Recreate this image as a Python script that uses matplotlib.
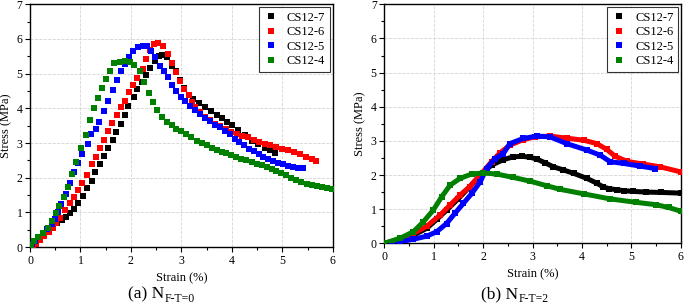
import matplotlib
matplotlib.use("Agg")
import matplotlib.pyplot as plt
from matplotlib.lines import Line2D
from matplotlib.ticker import MultipleLocator

plt.rcParams["font.family"] = ["Liberation Serif", "DejaVu Serif"]

labels = ["CS12-7", "CS12-6", "CS12-5", "CS12-4"]
colors = ["#000000", "#ff0000", "#0000ff", "#008000"]

# ---- (a) N_F-T=0 : strain (%) / stress (MPa)
a7_x = [0.03, 0.10, 0.18, 0.26, 0.36, 0.45, 0.54, 0.63, 0.72, 0.80, 0.88, 0.96, 1.06, 1.13, 1.22,
        1.29, 1.38, 1.47, 1.55, 1.64, 1.71, 1.80, 1.88, 1.95, 2.06, 2.13, 2.22, 2.30, 2.38, 2.48,
        2.55, 2.61, 2.71, 2.81, 2.89, 2.97, 3.05, 3.15, 3.23, 3.35, 3.47, 3.58, 3.70, 3.80, 3.91,
        4.01, 4.13, 4.26, 4.39, 4.52, 4.65, 4.75, 4.85]
a7_y = [0.05, 0.15, 0.25, 0.34, 0.44, 0.56, 0.68, 0.78, 0.87, 0.99, 1.10, 1.26, 1.47, 1.69, 1.90,
        2.16, 2.40, 2.63, 2.86, 3.10, 3.32, 3.55, 3.82, 4.08, 4.32, 4.56, 4.77, 4.97, 5.16, 5.37,
        5.50, 5.54, 5.47, 5.21, 5.07, 4.83, 4.59, 4.39, 4.27, 4.15, 4.03, 3.92, 3.82, 3.73, 3.62,
        3.51, 3.37, 3.22, 3.07, 2.96, 2.86, 2.79, 2.72]

a6_x = [0.05, 0.12, 0.20, 0.28, 0.37, 0.45, 0.52, 0.60, 0.69, 0.79, 0.87, 0.96, 1.04, 1.12, 1.22,
        1.31, 1.39, 1.47, 1.54, 1.63, 1.72, 1.80, 1.88, 1.97, 2.05, 2.13, 2.23, 2.30, 2.37, 2.45,
        2.54, 2.64, 2.73, 2.82, 2.89, 2.98, 3.06, 3.16, 3.21, 3.27, 3.37, 3.47, 3.56, 3.67, 3.77,
        3.88, 3.99, 4.10, 4.21, 4.32, 4.44, 4.54, 4.65, 4.76, 4.88, 5.00, 5.11, 5.23, 5.35, 5.46,
        5.58, 5.66]
a6_y = [0.02, 0.10, 0.20, 0.32, 0.44, 0.56, 0.70, 0.85, 1.06, 1.26, 1.43, 1.64, 1.85, 2.09, 2.40,
        2.61, 2.86, 3.10, 3.34, 3.57, 3.82, 4.03, 4.22, 4.46, 4.67, 4.88, 5.13, 5.42, 5.68, 5.85,
        5.87, 5.80, 5.58, 5.32, 5.05, 4.80, 4.57, 4.37, 4.18, 4.03, 3.89, 3.76, 3.65, 3.55, 3.48,
        3.41, 3.33, 3.27, 3.21, 3.16, 3.09, 3.04, 2.98, 2.93, 2.88, 2.84, 2.79, 2.73, 2.67, 2.61,
        2.55, 2.48]

a5_x = [0.03, 0.10, 0.16, 0.26, 0.33, 0.43, 0.50, 0.56, 0.61, 0.71, 0.79, 0.87, 0.96, 1.04, 1.14,
        1.20, 1.30, 1.37, 1.47, 1.55, 1.64, 1.72, 1.80, 1.88, 1.96, 2.05, 2.14, 2.23, 2.31, 2.39,
        2.47, 2.57, 2.65, 2.74, 2.82, 2.90, 3.00, 3.08, 3.18, 3.27, 3.37, 3.47, 3.57, 3.66, 3.76,
        3.86, 3.96, 4.06, 4.15, 4.24, 4.34, 4.44, 4.53, 4.62, 4.72, 4.82, 4.92, 5.02, 5.12, 5.22,
        5.31, 5.41]
a5_y = [0.10, 0.18, 0.28, 0.40, 0.51, 0.66, 0.82, 1.01, 1.24, 1.54, 1.85, 2.16, 2.42, 2.69, 2.98,
        3.27, 3.41, 3.60, 3.92, 4.22, 4.53, 4.83, 5.07, 5.28, 5.49, 5.64, 5.76, 5.80, 5.80, 5.66,
        5.47, 5.23, 5.09, 4.89, 4.68, 4.51, 4.34, 4.20, 4.08, 3.96, 3.84, 3.73, 3.63, 3.53, 3.45,
        3.36, 3.25, 3.12, 3.03, 2.93, 2.84, 2.76, 2.68, 2.60, 2.53, 2.47, 2.42, 2.38, 2.34, 2.31,
        2.29, 2.29]

a4_x = [0.02, 0.07, 0.16, 0.25, 0.35, 0.43, 0.51, 0.58, 0.67, 0.76, 0.84, 0.92, 1.01, 1.11, 1.19,
        1.27, 1.34, 1.42, 1.50, 1.58, 1.67, 1.78, 1.88, 1.98, 2.07, 2.18, 2.26, 2.36, 2.44, 2.51,
        2.61, 2.71, 2.81, 2.90, 3.00, 3.10, 3.20, 3.30, 3.40, 3.50, 3.60, 3.70, 3.80, 3.89, 3.99,
        4.09, 4.19, 4.29, 4.39, 4.49, 4.59, 4.69, 4.79, 4.88, 4.98, 5.08, 5.18, 5.28, 5.38, 5.48,
        5.58, 5.68, 5.78, 5.88, 5.99]
a4_y = [0.05, 0.18, 0.28, 0.39, 0.55, 0.76, 0.97, 1.18, 1.45, 1.73, 2.10, 2.45, 2.85, 3.22, 3.65,
        4.01, 4.29, 4.59, 4.85, 5.09, 5.31, 5.34, 5.36, 5.33, 5.25, 5.07, 4.75, 4.44, 4.18, 3.94,
        3.76, 3.62, 3.51, 3.41, 3.34, 3.27, 3.17, 3.07, 3.00, 2.93, 2.87, 2.81, 2.74, 2.70, 2.65,
        2.60, 2.55, 2.50, 2.45, 2.40, 2.36, 2.31, 2.26, 2.19, 2.14, 2.07, 2.00, 1.94, 1.88, 1.83,
        1.79, 1.75, 1.73, 1.71, 1.68]

# ---- (b) N_F-T=2
b7_x = [0.0, 0.32, 0.59, 0.86, 1.06, 1.26, 1.50, 1.73, 1.94, 2.17, 2.41, 2.60, 2.78, 2.95, 3.08,
        3.25, 3.42, 3.62, 3.83, 4.10, 4.30, 4.43, 4.55, 4.70, 4.85, 5.04, 5.30, 5.60, 6.0]
b7_y = [0.0, 0.10, 0.24, 0.44, 0.70, 0.97, 1.31, 1.66, 2.00, 2.29, 2.45, 2.53, 2.55, 2.52, 2.47,
        2.36, 2.24, 2.15, 2.05, 1.90, 1.76, 1.65, 1.60, 1.57, 1.54, 1.52, 1.50, 1.49, 1.47]

b6_x = [0.0, 0.32, 0.59, 0.86, 1.13, 1.33, 1.53, 1.73, 1.94, 2.17, 2.34, 2.55, 2.80, 3.05, 3.35,
        3.69, 4.03, 4.30, 4.50, 4.67, 4.91, 5.24, 5.58, 6.0]
b6_y = [0.0, 0.12, 0.29, 0.50, 0.83, 1.12, 1.41, 1.66, 2.00, 2.39, 2.65, 2.88, 3.03, 3.12, 3.14,
        3.08, 3.02, 2.92, 2.75, 2.55, 2.40, 2.32, 2.24, 2.09]

b5_x = [0.0, 0.15, 0.32, 0.59, 0.86, 1.06, 1.26, 1.43, 1.60, 1.77, 1.94, 2.07, 2.24, 2.41, 2.54,
        2.81, 3.08, 3.35, 3.69, 4.10, 4.37, 4.57, 4.84, 5.18, 5.48]
b5_y = [0.0, 0.0, 0.05, 0.12, 0.21, 0.34, 0.58, 0.88, 1.17, 1.46, 1.80, 2.19, 2.48, 2.63, 2.92,
        3.07, 3.14, 3.12, 2.92, 2.73, 2.58, 2.39, 2.34, 2.26, 2.19]

b4_x = [0.0, 0.32, 0.59, 0.79, 0.99, 1.16, 1.33, 1.53, 1.77, 2.00, 2.27, 2.61, 2.95, 3.30, 3.56,
        4.03, 4.57, 5.10, 5.50, 5.75, 6.0]
b4_y = [0.0, 0.15, 0.34, 0.63, 0.97, 1.36, 1.70, 1.90, 2.03, 2.06, 2.03, 1.93, 1.82, 1.68, 1.58,
        1.45, 1.30, 1.20, 1.13, 1.05, 0.94]

panel_a = [(a7_x, a7_y), (a6_x, a6_y), (a5_x, a5_y), (a4_x, a4_y)]
panel_b = [(b7_x, b7_y), (b6_x, b6_y), (b5_x, b5_y), (b4_x, b4_y)]

fig = plt.figure(figsize=(6.85, 3.08), dpi=100)
ax1 = fig.add_axes([0.0438, 0.198, 0.442, 0.788])
ax2 = fig.add_axes([0.561, 0.210, 0.433, 0.776])

for (x, y), c in zip(panel_a, colors):
    ax1.plot(x, y, "s", color=c, ms=3.8, mew=0, zorder=3)
for (x, y), c in zip(panel_b, colors):
    ax2.plot(x, y, "-s", color=c, lw=3.6, ms=4.0, mew=0, zorder=3)


def style(ax):
    ax.set_xlim(0, 6)
    ax.set_ylim(0, 7)
    ax.xaxis.set_major_locator(MultipleLocator(1))
    ax.xaxis.set_minor_locator(MultipleLocator(0.5))
    ax.yaxis.set_major_locator(MultipleLocator(1))
    ax.yaxis.set_minor_locator(MultipleLocator(0.5))
    ax.tick_params(which="both", direction="out", labelsize=8.5, width=0.8, pad=2)
    ax.tick_params(which="major", length=3.5)
    ax.tick_params(which="minor", length=2)
    ax.grid(True, which="major", ls="--", color="#d4d4d4", lw=0.6)
    ax.set_axisbelow(True)
    for s in ax.spines.values():
        s.set_linewidth(1.0)
    ax.set_xlabel("Strain (%)", fontsize=9, labelpad=4)
    ax.set_ylabel("Stress (MPa)", fontsize=9, labelpad=3)
    handles = [Line2D([], [], ls="none", marker="s", ms=4.5, mew=0, color=c) for c in colors]
    leg = ax.legend(handles, labels, loc="upper right", fontsize=9, frameon=True,
                    fancybox=False, borderaxespad=0.25, labelspacing=0.2,
                    handlelength=1.2, handletextpad=0.7, borderpad=0.35)
    leg.get_frame().set_edgecolor("black")
    leg.get_frame().set_linewidth(0.8)


style(ax1)
style(ax2)

# panel captions with subscript
for xc, main, sub in [(0.240, "(a) N", "F-T=0"), (0.756, "(b) N", "F-T=2")]:
    fig.text(xc, 0.032, main, fontsize=12.5, ha="right", va="baseline")
    fig.text(xc + 0.001, 0.018, sub, fontsize=8.5, ha="left", va="baseline")

fig.savefig("out.png", dpi=100)
